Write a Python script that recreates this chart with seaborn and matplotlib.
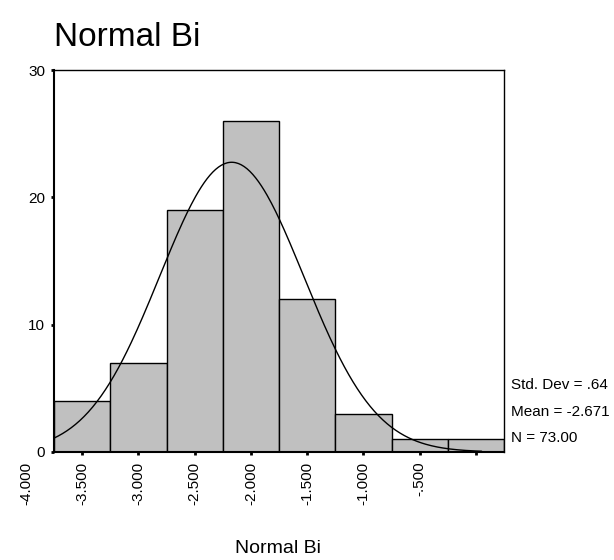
import numpy as np
import pandas as pd
import matplotlib
matplotlib.use("Agg")
import matplotlib.pyplot as plt
import seaborn as sns

# Data
bin_centers = [-4.0, -3.5, -3.0, -2.5, -2.0, -1.5, -1.0, -0.5]
counts = [4, 7, 19, 26, 12, 3, 1, 1]
bin_width = 0.5
tick_labels = ["-4.000", "-3.500", "-3.000", "-2.500", "-2.000", "-1.500", "-1.000", "-.500"]
y_ticks = [0, 10, 20, 30]
std_dev = 0.64
mean = -2.671
n_obs = 73
title = "Normal Bi"

sns.set_style("white")
plt.rcParams["font.family"] = ["Liberation Sans", "DejaVu Sans"]
plt.rcParams["text.color"] = "black"
plt.rcParams["xtick.color"] = "black"
plt.rcParams["ytick.color"] = "black"

fig = plt.figure(figsize=(6.14, 5.6), dpi=100)
ax = fig.add_axes([0.088, 0.193, 0.733, 0.682])

edges = [c - bin_width / 2 for c in bin_centers] + [bin_centers[-1] + bin_width / 2]
df = pd.DataFrame({"value": bin_centers, "count": counts})
sns.histplot(data=df, x="value", weights="count", bins=edges, ax=ax,
             color="#c0c0c0", alpha=1.0, edgecolor="black", linewidth=1.0)

# Fitted normal curve from the reported statistics
xs = np.linspace(edges[0], bin_centers[-1] + 0.05, 300)
ys = n_obs * bin_width * np.exp(-0.5 * ((xs - mean) / std_dev) ** 2) / (std_dev * np.sqrt(2 * np.pi))
sns.lineplot(x=xs, y=ys, ax=ax, color="black", linewidth=1.0)

ax.set_xlim(edges[0], edges[-1])
ax.set_ylim(0, 30)
ax.set_yticks(y_ticks)
ax.set_yticklabels([str(v) for v in y_ticks], fontsize=11)
ax.set_xticks(bin_centers)
ax.set_xticklabels([""] * len(bin_centers))
ax.tick_params(axis="both", which="major", direction="out", length=2.5, width=2,
               color="black", labelcolor="black", pad=4, bottom=True, left=True)
ax.set_xlabel("")
ax.set_ylabel("")

for s in ax.spines.values():
    s.set_color("black")
    s.set_linewidth(1.0)
ax.spines["left"].set_linewidth(1.5)
ax.spines["bottom"].set_linewidth(1.5)

# Tick labels as rendered in the reference (shifted one bin left)
for c, lab in zip(bin_centers, tick_labels):
    ax.annotate(lab, xy=(c - bin_width, 0), xycoords=("data", "axes fraction"),
                xytext=(0, -7), textcoords="offset points",
                rotation=90, ha="center", va="top", fontsize=11,
                color="black", annotation_clip=False)

fig.text(0.088, 0.933, title, fontsize=24, ha="left", va="center", color="black")
fig.text(0.452, 0.021, title, fontsize=14, ha="center", va="center", color="black")

stats_lines = [f"Std. Dev = {std_dev:.2f}".replace("0.", "."),
               f"Mean = {mean:.3f}",
               f"N = {n_obs:.2f}"]
for i, txt in enumerate(stats_lines):
    ax.annotate(txt, xy=(1.0, 0), xycoords="axes fraction",
                xytext=(5, 48 - i * 19), textcoords="offset points",
                ha="left", va="center", fontsize=11, color="black",
                annotation_clip=False)

fig.savefig("out.png", dpi=100)
